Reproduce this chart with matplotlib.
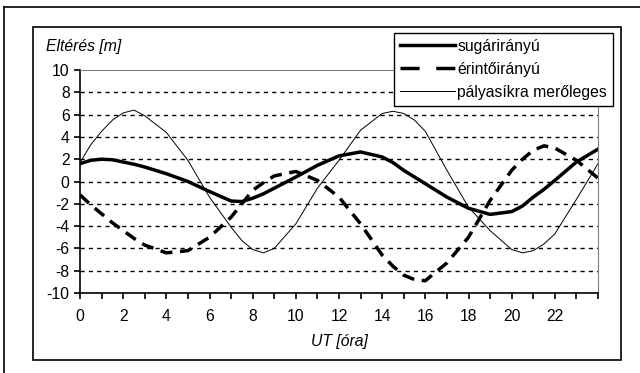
import numpy as np
import matplotlib.pyplot as plt
from matplotlib.lines import Line2D
from matplotlib.patches import Rectangle

plt.rcParams['font.family'] = ['Liberation Sans', 'DejaVu Sans']
plt.rcParams['font.size'] = 11.3
plt.rcParams['axes.unicode_minus'] = False

# hours (UT)
hours = [0, 0.5, 1, 1.5, 2, 2.5, 3, 4, 5, 6, 7, 7.5, 8, 8.5, 9, 10, 11, 12, 13,
         14, 14.5, 15, 15.5, 16, 17, 18, 19, 20, 20.5, 21, 21.5, 22, 23, 24]

# radial deviation [m]
radial = [1.6, 1.9, 2.0, 1.95, 1.75, 1.55, 1.3, 0.7, 0.0, -0.9, -1.75, -1.8, -1.5, -1.1,
          -0.6, 0.4, 1.45, 2.3, 2.65, 2.2, 1.7, 1.0, 0.4, -0.2, -1.4, -2.4, -2.95, -2.7,
          -2.2, -1.4, -0.7, 0.1, 1.75, 2.9]

# along-track deviation [m]
tangential = [-1.2, -2.1, -2.9, -3.7, -4.4, -5.1, -5.7, -6.4, -6.2, -5.0, -3.2, -2.0, -0.8,
              -0.1, 0.5, 0.9, 0.1, -1.4, -3.8, -6.6, -7.6, -8.4, -8.8, -8.9, -7.3, -5.0,
              -1.7, 1.0, 2.0, 2.8, 3.2, 3.0, 1.9, 0.3]

# cross-track deviation [m]
normal = [1.7, 3.3, 4.5, 5.5, 6.15, 6.4, 5.9, 4.4, 1.9, -1.4, -4.1, -5.3, -6.1, -6.4,
          -6.0, -3.8, -0.6, 1.9, 4.6, 6.1, 6.3, 6.1, 5.5, 4.5, 1.0, -2.3, -4.4, -6.1,
          -6.4, -6.2, -5.6, -4.7, -1.6, 1.6]

labels = ["sugárirányú", "érintőirányú", "pályasíkra merőleges"]

fig = plt.figure(figsize=(6.4, 3.73), dpi=100)
ax = fig.add_axes([80/640, 1-293/373, 518/640, 223/373])

l1, = ax.plot(hours, radial, color='black', lw=2.5)
l2, = ax.plot(hours, tangential, color='black', lw=2.5, linestyle=(0, (3.5, 2.2)))
l3, = ax.plot(hours, normal, color='black', lw=0.7)

ax.set_xlim(0, 24)
ax.set_ylim(-10, 10)
ax.set_yticks(range(-10, 11, 2))
ax.set_xticks(range(0, 25))
ax.set_xticklabels([str(h) if h % 2 == 0 and h < 24 else '' for h in range(25)])
for y in range(-8, 10, 2):
    ax.axhline(y, color='black', lw=1, linestyle=(0, (3, 3)), zorder=0)

for s in ['top', 'right']:
    ax.spines[s].set_color('#808080')
    ax.spines[s].set_linewidth(0.8)
for s in ['left', 'bottom']:
    ax.spines[s].set_linewidth(1.2)
ax.tick_params(direction='out', length=4.5, width=1.2)
ax.tick_params(axis='y', pad=3)
ax.tick_params(axis='x', pad=7)

ax.set_xlabel("UT [óra]", style='italic', labelpad=7)
fig.text(46/640, 1-47/373, "Eltérés [m]", style='italic', va='center', ha='left')

leg = ax.legend([l1, l2, l3], labels, loc='upper right',
                bbox_to_anchor=(613/640, 1-33/373), bbox_transform=fig.transFigure,
                borderaxespad=0, fancybox=False, framealpha=1, edgecolor='black',
                handlelength=3.55, handletextpad=0.12, borderpad=0.38, labelspacing=0.5)
leg.get_frame().set_linewidth(1.0)
leg.get_lines()[1].set_linestyle((0, (5.5, 4.8)))

# chart area border and outer frame
fig.add_artist(Rectangle((33/640, 1-360/373), 588/640, 333/373, transform=fig.transFigure,
                         fill=False, edgecolor='black', lw=1.2))
fig.add_artist(Line2D([4/640, 4/640], [0, 1-7/373], transform=fig.transFigure, color='black', lw=1.2))
fig.add_artist(Line2D([4/640, 1], [1-7/373, 1-7/373], transform=fig.transFigure, color='black', lw=1.2))

fig.savefig("out.png", dpi=100)
